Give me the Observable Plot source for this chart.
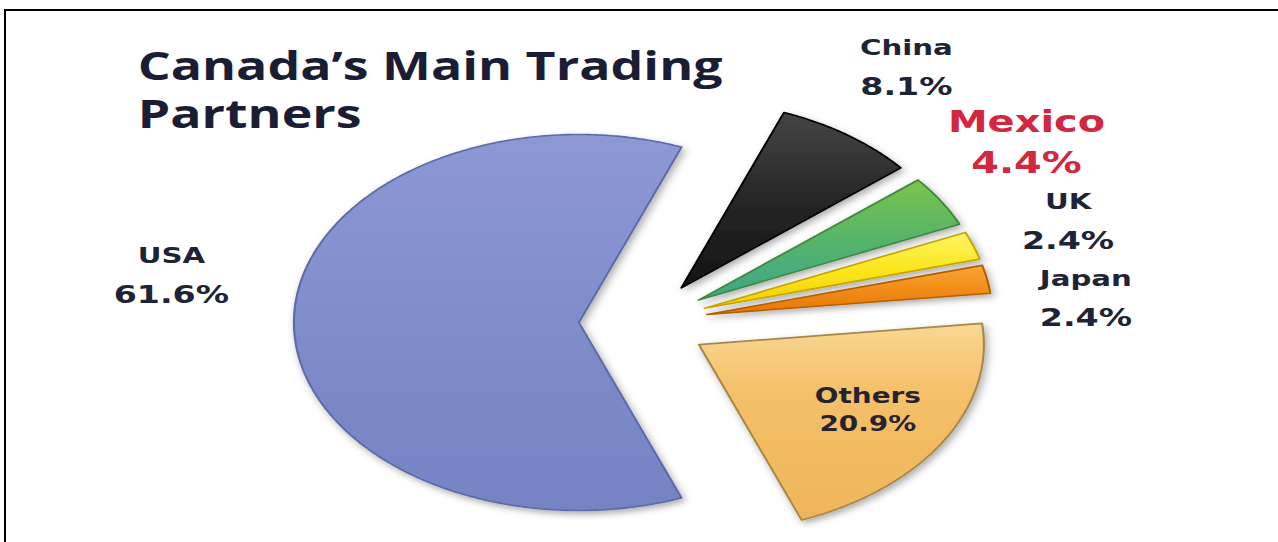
<!DOCTYPE html>
<html>
<head>
<meta charset="utf-8">
<script src="https://cdn.jsdelivr.net/npm/d3@7"></script>
<script src="https://cdn.jsdelivr.net/npm/@observablehq/plot@0.6"></script>
<style>
  html, body { margin: 0; padding: 0; background: #fff; }
  #wrap { position: relative; width: 1278px; height: 542px; overflow: hidden; background: #fff; }
  #frame { position: absolute; left: 4px; top: 9px; right: -10px; bottom: -10px;
           border-top: 2px solid #000; border-left: 2px solid #000; pointer-events: none; }
</style>
</head>
<body>
<div id="wrap"><div id="chart"></div><div id="frame"></div></div>
<script>
// ---------------- data ----------------
const titleText = "Canada’s Main Trading\nPartners";
const partners = ["China", "Mexico", "UK", "Japan", "Others", "USA"];
const shares = [8.1, 4.4, 2.4, 2.4, 20.9, 61.6];
const shareLabels = ["8.1%", "4.4%", "2.4%", "2.4%", "20.9%", "61.6%"];

// ---------------- styles ----------------
const gradStops = {
  China:  [[0, "#454545"], [0.5, "#262626"], [1, "#141414"]],
  Mexico: [[0, "#7cc44c"], [0.5, "#55b46a"], [1, "#3ea58c"]],
  UK:     [[0, "#fff566"], [0.5, "#fbe61a"], [1, "#f0cf00"]],
  Japan:  [[0, "#faa63a"], [0.5, "#f28c16"], [1, "#e27608"]],
  Others: [[0, "#f9d894"], [0.35, "#f4c068"], [1, "#efb55c"]],
  USA:    [[0, "#8c99d5"], [0.5, "#7f8dcb"], [1, "#7483c3"]]
};
const strokes = { China: "#050505", Mexico: "#3f8a3c", UK: "#c7a600", Japan: "#b65f00", Others: "#a8874a", USA: "#5d6ba6" };
const highlight = "Mexico";
const insideLabels = ["Others"];
const labelNudge = { USA: [-22, -46] };   // screen px, manual placement as in the original
const textColor = "#1f2336";

// ---------------- layout ----------------
const SCREEN_W = 1278, H = 542;
const S = 1.33;                       // horizontal stretch of the picture
const W = Math.round(SCREEN_W / S);
const rxScreen = 285, ry = 188;       // pie radii (screen px)
const kx = rxScreen / S;
const cxScreen = 643, cy = 322;       // pie centre (screen px)
const cx = cxScreen / S;
const explode = 0.227, labelR = 1.58, insideR = 0.92, gap = 0.41;

// ---------------- geometry from data ----------------
const rows = partners.map((name, i) => ({ name, share: shares[i], pct: shareLabels[i] }));
const total = d3.sum(shares);
const lastAngle = shares[shares.length - 1] / total * 2 * Math.PI;
const rot = lastAngle / 2 - Math.PI / 2;
const arcs = d3.pie().sort(null).value(d => d.share).startAngle(rot).endAngle(rot + 2 * Math.PI)(rows);

const pts = [];
const labels = [];
arcs.forEach(a => {
  const name = a.data.name;
  const mid = (a.startAngle + a.endAngle) / 2;
  const ox = explode * Math.sin(mid), oy = explode * Math.cos(mid);
  pts.push({ name, x: ox, y: oy });
  const n = Math.max(2, Math.ceil((a.endAngle - a.startAngle) / (Math.PI / 360)));
  for (let k = 0; k <= n; k++) {
    const t = a.startAngle + (a.endAngle - a.startAngle) * k / n;
    pts.push({ name, x: ox + Math.sin(t), y: oy + Math.cos(t) });
  }
  pts.push({ name, x: ox, y: oy });
  const inside = insideLabels.includes(name);
  const r = inside ? insideR : labelR;
  const l = { name, pct: a.data.pct, inside, x: r * Math.sin(mid), y: r * Math.cos(mid) };
  l.y0 = l.y;
  labels.push(l);
});

// resolve overlaps of outside labels on each side (equal spacing, centred on ideal mean)
function spread(items) {
  items.sort((a, b) => b.y0 - a.y0);
  let groups = items.map(d => ({ m: [d] }));
  const center = g => d3.mean(g.m, d => d.y0);
  let changed = true;
  while (changed) {
    changed = false;
    for (let i = 0; i < groups.length - 1; i++) {
      const a = groups[i], b = groups[i + 1];
      const aLow = center(a) - (a.m.length - 1) * gap / 2;
      const bHigh = center(b) + (b.m.length - 1) * gap / 2;
      if (aLow - bHigh < gap - 1e-9) { groups.splice(i, 2, { m: a.m.concat(b.m) }); changed = true; break; }
    }
  }
  groups.forEach(g => { const c = center(g); g.m.forEach((d, k) => d.y = c + ((g.m.length - 1) / 2 - k) * gap); });
}
spread(labels.filter(d => !d.inside && d.x > 0));
spread(labels.filter(d => !d.inside && d.x <= 0));
labels.forEach(d => {
  const nd = labelNudge[d.name];
  if (nd) { d.x += nd[0] / rxScreen; d.y -= nd[1] / ry; }
});

const outer = labels.filter(d => !d.inside && d.name !== highlight);
const hi = labels.filter(d => d.name === highlight);
const inner = labels.filter(d => d.inside);

const labelFont = { fontFamily: "DejaVu Sans", fontWeight: "bold", lineAnchor: "bottom" };

const slices = partners.map((p, i) =>
  Plot.line(pts.filter(d => d.name === p), {
    x: "x", y: "y", fill: `url(#grad${i})`, stroke: strokes[p], strokeWidth: 1.6, strokeLinejoin: "round"
  })
);

const svg = Plot.plot({
  width: W, height: H, margin: 0,
  x: { axis: null, domain: [-cx / kx, (W - cx) / kx] },
  y: { axis: null, domain: [-(H - cy) / ry, cy / ry] },
  marks: [
    ...slices,
    Plot.text([titleText], {
      text: d => d, frameAnchor: "top-left", textAnchor: "start", lineAnchor: "top",
      dx: 137 / S, dy: 45, fontSize: 39, lineHeight: 48 / 39,
      fontFamily: "Open Sans", fontWeight: "bold", fill: "#1a1d33"
    }),
    Plot.text(outer, { x: "x", y: "y", text: "name", dy: -14, fontSize: 22, fill: textColor, ...labelFont }),
    Plot.text(outer, { x: "x", y: "y", text: "pct", dy: 26, fontSize: 25, fill: textColor, ...labelFont }),
    Plot.text(hi, { x: "x", y: "y", text: "name", dy: -14, fontSize: 30, fill: "#d3263f", ...labelFont }),
    Plot.text(hi, { x: "x", y: "y", text: "pct", dy: 27, fontSize: 30, fill: "#d3263f", ...labelFont }),
    Plot.text(inner, { x: "x", y: "y", text: "name", dy: -9, fontSize: 21, fill: "#262230", ...labelFont }),
    Plot.text(inner, { x: "x", y: "y", text: "pct", dy: 19, fontSize: 21, fill: "#262230", ...labelFont })
  ]
});

// stretch horizontally like the original picture
svg.setAttribute("width", SCREEN_W);
svg.setAttribute("height", H);
svg.setAttribute("preserveAspectRatio", "none");
svg.style.width = SCREEN_W + "px";
svg.style.height = H + "px";
svg.style.maxWidth = "none";
svg.style.background = "#fff";

const defs = d3.select(svg).insert("defs", ":first-child");
partners.forEach((p, i) => {
  const g = defs.append("linearGradient").attr("id", `grad${i}`)
    .attr("x1", 0).attr("y1", 0).attr("x2", 0).attr("y2", 1);
  gradStops[p].forEach(([o, c]) => g.append("stop").attr("offset", o).attr("stop-color", c));
});
defs.append("filter").attr("id", "shadow").attr("x", "-20%").attr("y", "-20%").attr("width", "140%").attr("height", "140%")
  .append("feDropShadow").attr("dx", 2).attr("dy", 3).attr("stdDeviation", 3)
  .attr("flood-color", "#000").attr("flood-opacity", 0.32);
d3.select(svg).selectAll('g[aria-label="line"]').attr("filter", "url(#shadow)");

document.getElementById("chart").appendChild(svg);
</script>
</body>
</html>
